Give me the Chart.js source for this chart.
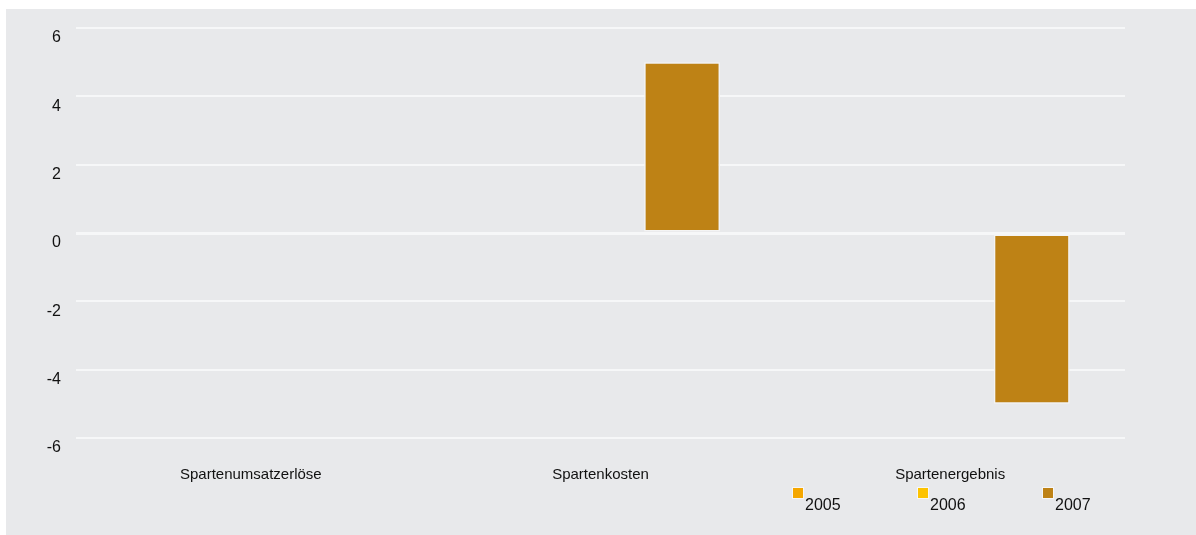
<!DOCTYPE html>
<html lang="de">
<head>
<meta charset="utf-8">
<title>Spartenrechnung</title>
<script src="https://cdn.jsdelivr.net/npm/chart.js@4/dist/chart.umd.min.js"></script>
<style>
  html, body { margin: 0; padding: 0; background: #ffffff; }
  .panel {
    position: absolute;
    left: 6px;
    top: 9px;
    width: 1190px;
    height: 526px;
    background: #e8e9eb;
  }
  #sparten { display: block; }
</style>
</head>
<body>
<div class="panel">
  <canvas id="sparten" width="1190" height="526"></canvas>
</div>
<script>
const categories = ["Spartenumsatzerlöse", "Spartenkosten", "Spartenergebnis"];
const years = ["2005", "2006", "2007"];
const values2005 = [0, 0, 0];
const values2006 = [0, 0, 0];
const values2007 = [0, 5, -5];
const yTicks = [-6, -4, -2, 0, 2, 4, 6];

const colors = ["#f5a700", "#fdc300", "#be8215"];
const fontFamily = "'Liberation Sans', Arial, sans-serif";

// legend: small square above-left of each year, drawn on the canvas
const yearLegend = {
  id: "yearLegend",
  afterDraw(chart) {
    const { ctx } = chart;
    const startX = 787;
    const step = 125;
    ctx.save();
    chart.data.datasets.forEach((dataset, index) => {
      const x = startX + index * step;
      const y = 479;
      ctx.fillStyle = "#f7f7f7";
      ctx.fillRect(x - 1, y - 1, 12, 12);
      ctx.fillStyle = dataset.backgroundColor;
      ctx.fillRect(x, y, 10, 10);
      ctx.fillStyle = "#111111";
      ctx.font = `16px ${fontFamily}`;
      ctx.textBaseline = "alphabetic";
      ctx.fillText(dataset.label, x + 12, 501);
    });
    ctx.restore();
  },
};

const datasets = [values2005, values2006, values2007].map((values, index) => ({
  label: years[index],
  data: values,
  backgroundColor: colors[index],
  borderColor: "#f4f4f4",
  borderWidth: 1.5,
  borderSkipped: false,
  barPercentage: 0.93,
  categoryPercentage: 0.7,
}));

new Chart(document.querySelector("#sparten"), {
  type: "bar",
  data: { labels: categories, datasets },
  plugins: [yearLegend],
  options: {
    responsive: false,
    animation: false,
    layout: { padding: { left: 0, top: 19, right: 71, bottom: 0 } },
    plugins: {
      legend: { display: false },
      tooltip: { enabled: false },
    },
    scales: {
      x: {
        grid: { display: false, drawTicks: false },
        border: { display: false },
        ticks: {
          color: "#111111",
          font: { family: fontFamily, size: 15 },
          padding: 28,
        },
        afterFit: (scale) => { scale.height = 97; },
      },
      y: {
        min: -6,
        max: 6,
        afterBuildTicks: (scale) => { scale.ticks = yTicks.map((value) => ({ value })); },
        grid: {
          color: "#f6f7f8",
          lineWidth: (context) => (context.tick && context.tick.value === 0 ? 3 : 2),
          drawTicks: false,
        },
        border: { display: false },
        ticks: {
          color: "#111111",
          font: { family: fontFamily, size: 16 },
          padding: 15,
          labelOffset: 10,
        },
        afterFit: (scale) => {
          scale.width = 70;
          scale.paddingTop = 0;
          scale.paddingBottom = 0;
        },
      },
    },
  },
});
</script>
</body>
</html>
